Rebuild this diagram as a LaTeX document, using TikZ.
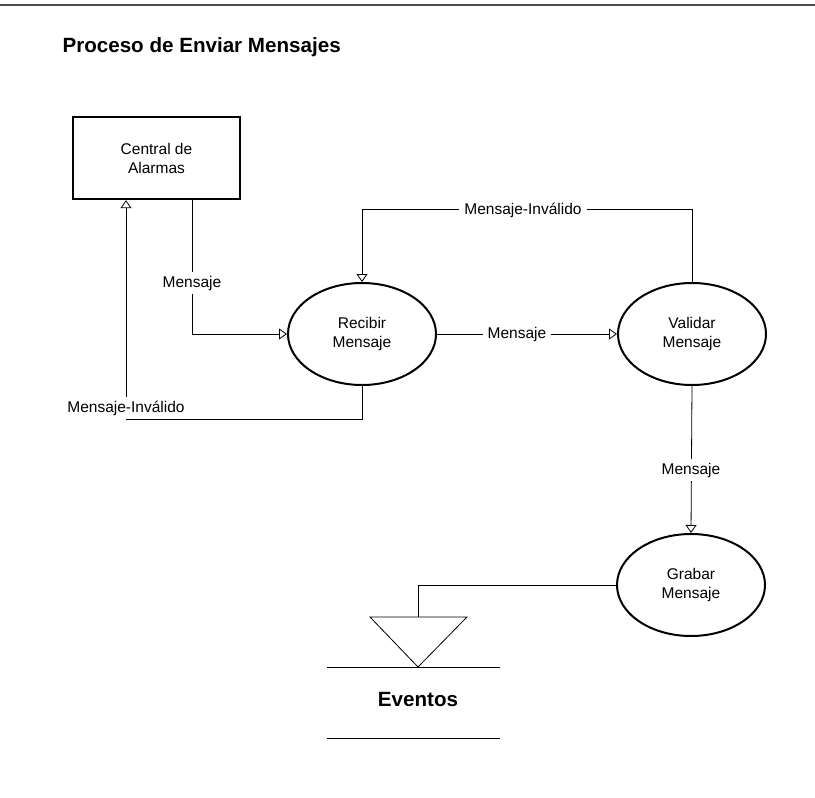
\documentclass[tikz,border=0pt]{standalone}
\usepackage{fontspec}
\setmainfont{Liberation Sans}
\usetikzlibrary{shapes.geometric,arrows.meta}

\tikzset{
  proc/.style={draw, ellipse, line width=2bp, minimum width=148bp, minimum height=102bp,
    inner sep=0pt, align=center, font=\fontsize{15.5bp}{19bp}\selectfont},
  ent/.style={draw, rectangle, line width=2.4bp, minimum width=167bp, minimum height=82bp,
    align=center, font=\fontsize{15.5bp}{19bp}\selectfont},
  flow/.style={line width=0.8bp, -{Triangle[open, length=8bp, width=11bp]}},
  wire/.style={line width=0.8bp},
  lbl/.style={fill=white, inner xsep=5bp, inner ysep=4bp, font=\fontsize{15.5bp}{19bp}\selectfont},
  big/.style={font=\fontsize{20.6bp}{24bp}\selectfont\bfseries}
}

\begin{document}
\begin{tikzpicture}[x=1bp, y=-1bp]
        \useasboundingbox (0,0) rectangle (815,798);
        \draw[gray!60!black, line width=1.2bp] (0,5) -- (815,5);

        \node[big, anchor=west] (titulo) at (59,47) {Proceso de Enviar Mensajes};

        \node[ent] (central) at (156.5,158) {Central de\\Alarmas};
        \node[proc] (recibir) at (362,334) {Recibir\\Mensaje};
        \node[proc] (validar) at (692,334) {Validar\\Mensaje};
        \node[proc] (grabar) at (691,585) {Grabar\\Mensaje};

        % almacen
        \coordinate (evtop) at (418,617);
        \coordinate (evtip) at (418,667);
        \draw[wire] (370,617) -- (467,617) -- (evtip) -- cycle;
        \draw[wire] (327,667) -- (500,667);
        \draw[wire] (327,738) -- (500,738);
        \node[big] (eventos) at (418,700) {Eventos};

        \draw[flow] ([xshift=35.5bp]central.south) |- (recibir.west);
        \draw[flow] (recibir.south) -- ++(0,33) -| ([xshift=-30.5bp]central.south);
        \draw[flow] (recibir.east) -- (validar.west);
        \draw[flow] (validar.north) -- ++(0,-73) -| (recibir.north);
        \draw[flow] (validar.south) -- (grabar.north);
        \draw[wire] (grabar.west) -| (evtop);

        \node[lbl] (m1) at (192,283) {Mensaje};
        \node[lbl] (m2) at (126,408) {Mensaje-Inválido};
        \node[lbl] (m3) at (517,334) {Mensaje};
        \node[lbl] (m4) at (523,210) {Mensaje-Inválido};
        \node[lbl] (m5) at (691,470) {Mensaje};
    \end{tikzpicture}
\end{document}
